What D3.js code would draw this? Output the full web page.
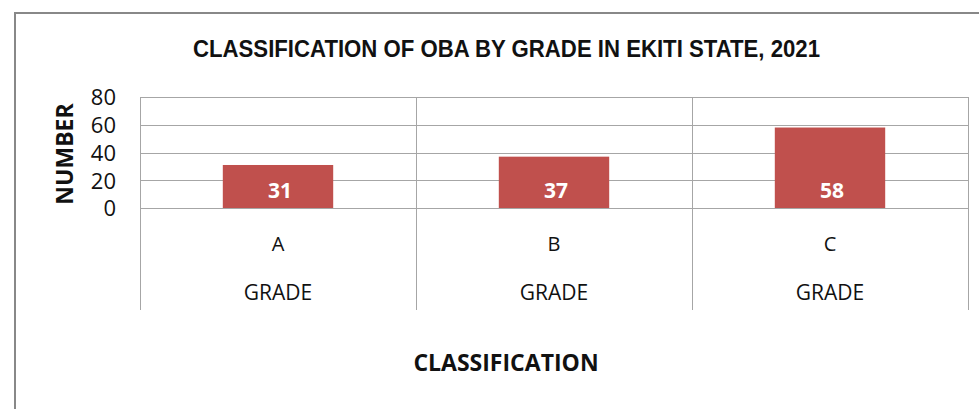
<!DOCTYPE html>
<html>
<head>
<meta charset="utf-8">
<script src="https://cdn.jsdelivr.net/npm/d3@7"></script>
<style>
  body { margin: 0; background: #fff; }
  svg { display: block; }
</style>
</head>
<body>
<div id="chart"></div>
<script>
var grades = ["A", "B", "C"];
var counts = [31, 37, 58];
var yTicks = [0, 20, 40, 60, 80];
var groupLabel = "GRADE";

function drawChart() {
var W = 979, H = 409;
var plotLeft = 140, plotRight = 968, plotTop = 97, plotBottom = 208, catBottom = 310;

var svg = d3.select("#chart").append("svg")
    .attr("width", W)
    .attr("height", H);

// outer frame
svg.append("path")
    .attr("d", "M15,409 L15,13 L979,13")
    .attr("fill", "none")
    .attr("stroke", "#888")
    .attr("stroke-width", 2);

svg.append("text")
    .attr("x", 193)
    .attr("y", 57)
    .attr("textLength", 627)
    .attr("lengthAdjust", "spacingAndGlyphs")
    .style("font-family", "'Liberation Sans', Arial, sans-serif")
    .style("font-size", "24px")
    .style("font-weight", "bold")
    .style("fill", "#111")
    .text("CLASSIFICATION OF OBA BY GRADE IN EKITI STATE, 2021");

var x = d3.scaleBand()
    .domain(grades)
    .range([plotLeft, plotRight])
    .paddingInner(0.6)
    .paddingOuter(0.3);

var y = d3.scaleLinear()
    .domain([0, 80])
    .range([plotBottom, plotTop]);

/////////// GRID ///////////
svg.append("g")
    .selectAll("line")
    .data(yTicks)
    .enter().append("line")
    .attr("x1", plotLeft)
    .attr("x2", plotRight)
    .attr("y1", function(d) { return Math.round(y(d)) + 0.5; })
    .attr("y2", function(d) { return Math.round(y(d)) + 0.5; })
    .attr("stroke", "#a6a6a6")
    .attr("stroke-width", 1);

var yAxis = svg.append("g")
    .attr("transform", "translate(116,0)")
    .call(d3.axisLeft(y).tickValues(yTicks).tickSize(0).tickPadding(0));
yAxis.select(".domain").remove();
yAxis.selectAll("text")
    .attr("dy", "0.36em")
    .style("font-family", "'Open Sans', sans-serif")
    .style("font-size", "22px")
    .style("fill", "#111");

svg.append("text")
    .attr("transform", "translate(73,154) rotate(-90)")
    .attr("text-anchor", "middle")
    .style("font-family", "'Open Sans', sans-serif")
    .style("font-size", "23px")
    .style("font-weight", "bold")
    .style("fill", "#111")
    .text("NUMBER");

/////////// CATEGORY SEPARATORS ///////////
var step = x.step();
var seps = d3.range(grades.length + 1).map(function(i) { return plotLeft + i * step; });
svg.append("g")
    .selectAll("line")
    .data(seps)
    .enter().append("line")
    .attr("x1", function(d) { return Math.round(d) + 0.5; })
    .attr("x2", function(d) { return Math.round(d) + 0.5; })
    .attr("y1", plotTop)
    .attr("y2", catBottom)
    .attr("stroke", "#a6a6a6")
    .attr("stroke-width", 1);

/////////// BARS ///////////
svg.append("g")
    .selectAll("rect")
    .data(counts)
    .enter().append("rect")
    .attr("x", function(d, i) { return x(grades[i]); })
    .attr("width", x.bandwidth())
    .attr("y", function(d) { return y(d); })
    .attr("height", function(d) { return y(0) - y(d); })
    .attr("fill", "#c0504d");

svg.append("g")
    .selectAll("text")
    .data(counts)
    .enter().append("text")
    .attr("x", function(d, i) { return x(grades[i]) + x.bandwidth() / 2 + 2; })
    .attr("y", 198)
    .attr("text-anchor", "middle")
    .style("font-family", "'Open Sans', sans-serif")
    .style("font-size", "21px")
    .style("font-weight", "bold")
    .style("fill", "#fff")
    .text(function(d) { return d; });

/////////// CATEGORY LABELS ///////////
var cats = svg.append("g")
    .selectAll("g")
    .data(grades)
    .enter().append("g");

cats.append("text")
    .attr("x", function(d) { return x(d) + x.bandwidth() / 2; })
    .attr("y", 251)
    .attr("text-anchor", "middle")
    .style("font-family", "'Open Sans', sans-serif")
    .style("font-size", "20px")
    .style("fill", "#111")
    .text(function(d) { return d; });

cats.append("text")
    .attr("x", function(d) { return x(d) + x.bandwidth() / 2; })
    .attr("y", 300)
    .attr("text-anchor", "middle")
    .style("font-family", "'Open Sans', sans-serif")
    .style("font-size", "21px")
    .style("fill", "#111")
    .text(groupLabel);

svg.append("text")
    .attr("x", 506)
    .attr("y", 371)
    .attr("text-anchor", "middle")
    .style("font-family", "'Open Sans', sans-serif")
    .style("font-size", "23px")
    .style("font-weight", "bold")
    .style("fill", "#111")
    .text("CLASSIFICATION");
}

drawChart();
</script>
</body>
</html>
